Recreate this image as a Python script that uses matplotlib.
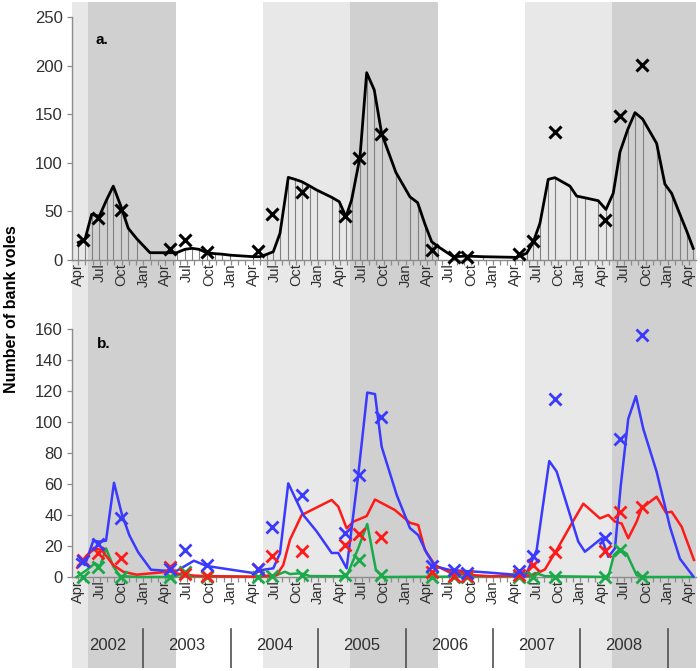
import numpy as np
import matplotlib.pyplot as plt

plt.rcParams['font.family'] = ['Liberation Sans Narrow', 'Liberation Sans', 'DejaVu Sans']

# time axis: months since Jan 2002 (Apr 2002 = 3)
obs_month = [3.69, 5.79, 8.85, 15.69, 17.70, 20.75, 27.73, 29.65, 33.73, 39.68, 41.60,
             44.62, 51.63, 54.65, 56.50, 63.58, 65.50, 68.52, 75.46, 77.45, 80.50]

# panel a: total voles, model line and observed counts
total_month = [3.04, 3.96, 4.88, 5.93, 6.94, 7.85, 8.91, 9.91, 11.06, 12.89, 16.56, 17.70,
               18.66, 19.62, 20.68, 21.82, 22.78, 23.88, 27.08, 28.00, 28.92, 29.83, 30.75,
               31.89, 32.81, 33.73, 34.87, 35.79, 37.85, 38.89, 39.81, 40.60, 41.74, 42.66,
               43.70, 44.72, 46.68, 48.60, 49.66, 50.66, 51.59, 52.49, 54.55, 56.39, 58.67,
               63.26, 64.63, 65.50, 66.46, 67.60, 68.52, 70.58, 71.50, 72.64, 74.47, 75.53,
               76.53, 77.45, 78.51, 79.52, 80.57, 82.49, 83.63, 84.55, 85.69, 86.61, 87.52]
total_fit = [18, 21, 47, 45, 62, 76, 55, 32.6, 22, 7.5, 7.5, 11,
             12, 11, 7.5, 6.5, 6, 5, 3.4, 3.4, 5.8, 8.5, 27.4,
             85, 83, 80.6, 76, 72, 64.5, 60, 44.5, 62, 106, 192.7,
             175, 130, 90, 65, 59, 37, 18.8, 13.7, 3.4, 4, 3.4,
             2.7, 6.9, 17.6, 37.7, 83, 84.7, 76, 65.8, 64, 61, 52,
             68.6, 111, 134, 151.6, 145, 120, 78, 68.6, 47, 30, 12]
total_obs = [21, 43, 51, 11.6, 21, 8.5, 9.6, 47, 69.7, 45, 105, 130, 10.3, 3.4, 3.4,
             5.8, 19.9, 132, 41, 148, 201]

# panel b: three components
blue_month = [2.90, 3.96, 5.10, 5.93, 6.85, 7.95, 9.00, 10.05, 11.28, 13.03, 15.18, 16.56,
              17.70, 18.93, 20.68, 27.31, 28.23, 29.83, 30.75, 31.89, 33.95, 35.79, 37.85,
              38.76, 39.91, 41.50, 42.74, 43.80, 44.72, 46.78, 48.60, 49.74, 50.90, 52.04,
              54.10, 57.77, 59.59, 63.48, 64.63, 66.01, 67.74, 68.76, 71.73, 72.64, 74.94,
              75.85, 76.77, 77.55, 78.59, 79.65, 80.65, 82.49, 84.32, 85.69, 87.52]
blue_fit = [11.4, 7.7, 23.4, 22.8, 23.4, 60.8, 41, 27, 15.9, 4.7, 4, 4,
            7.1, 10.5, 7.1, 2.4, 4.5, 5.6, 15.3, 60.4, 40, 29.4, 15.5,
            15.5, 5.6, 65.8, 119, 118, 84, 53, 31.6, 27, 15.5, 6.9,
            4.5, 3.4, 2.8, 1.3, 2.4, 17.4, 74.8, 68, 22.8, 16.3, 25,
            13, 18.5, 58.3, 102, 116.7, 95.7, 67.9, 32.4, 11.8, 0.4]
blue_obs = [10.5, 21.3, 38.3, 5, 17.4, 7.7, 5, 32, 52.9, 28.2, 65.8, 103.4, 7.1, 4.3, 2.8,
            3.9, 13.5, 115, 24.9, 89.3, 156]

red_month = [2.90, 4.20, 5.34, 6.26, 7.85, 9.22, 11.06, 15.64, 17.46, 20.21, 27.54, 30.29,
             31.20, 32.12, 33.73, 37.85, 38.76, 39.91, 40.82, 42.66, 43.80, 46.54, 48.60,
             49.74, 50.66, 52.04, 54.10, 56.85, 59.59, 65.55, 67.15, 68.76, 70.82, 72.42,
             74.71, 75.85, 76.77, 77.69, 78.59, 79.75, 80.43, 82.49, 83.77, 84.55, 85.93,
             87.62]
red_fit = [6, 14, 18.5, 17.4, 7.7, 3.4, 1.5, 3.5, 1.3, 0.6, 0.2, 1.3,
           7.7, 24, 40, 49.7, 45.4, 31.4, 35.7, 39.3, 50, 43.2, 35,
           33.5, 17.4, 7.7, 2.8, 1.3, 0.5, 1.1, 4.9, 17.4, 34.5, 47.3,
           37.8, 40, 35.7, 34.5, 25, 35.7, 44.3, 51.8, 41.5, 42.1, 32.4,
           11]
red_obs = [11, 15.7, 12, 6.3, 1.9, 0.6, 5, 13.5, 17, 20.6, 27.7, 25.6, 3.4, 0.4, 0.4,
           1.1, 7.7, 16.3, 17, 42, 45.3]

green_month = [2.82, 4.20, 5.34, 6.02, 6.85, 7.85, 8.77, 11.52, 15.64, 16.74, 17.57, 18.66,
               28.00, 30.20, 31.43, 32.12, 33.50, 34.87, 39.91, 41.50, 42.74, 43.93, 44.94,
               65.09, 65.78, 67.15, 75.85, 76.62, 77.45, 78.37, 79.75, 80.62, 87.52]
green_fit = [0, 4.5, 8.8, 6.8, 18.5, 6.8, 0.6, 0, 0, 1, 3.5, 0.5,
             0, 1, 3.4, 1.9, 2.4, 0.6, 0.5, 18.5, 34.2, 4.5, 0,
             0.5, 2.6, 0.6, 0, 14.2, 17.8, 15.1, 1.1, 0, 0]
green_obs = [0, 6.3, 0, 0, 3, 0, 0, 0.6, 1.3, 1.3, 11, 1.3, 0, 0, 0,
             0, 0, 0, 0, 17.4, 0]

# cycle phase shading (start month, shade)
phase_start = [2.18, 4.4, 16.4, 28.4, 40.4, 52.4, 64.4, 76.4]
phase_shade = ["#e8e8e8", "#d0d0d0", "#ffffff", "#e8e8e8", "#d0d0d0", "#ffffff",
               "#e8e8e8", "#d0d0d0"]
years = [2002, 2003, 2004, 2005, 2006, 2007, 2008]

X0, X1 = 2.18, 87.9
BLUE, RED, GREEN = "#3a3aff", "#ff1a1a", "#1aaa4a"
AXC = "#8c8c8c"

fig = plt.figure(figsize=(7.0, 6.71), dpi=100)

# background: shading through both panels and the year strip (y in pixels)
bg = fig.add_axes([72 / 700, 3 / 671, 624 / 700, 666 / 671])
bg.set_xlim(X0, X1)
bg.set_ylim(668, 2)
bg.set_axis_off()
edges = phase_start + [X1]
for i, c in enumerate(phase_shade):
    bg.axvspan(edges[i], edges[i + 1], color=c, lw=0, zorder=0)
for k, yr in enumerate(years):
    sep = 12 * (k + 1)
    bg.plot([sep, sep], [629, 668], color="#505050", lw=1.2, zorder=2)
    xc = (X0 + 12) / 2 if k == 0 else 12 * k + 6
    bg.text(xc, 646, str(yr), ha="center", va="center", fontsize=12, color="#303030")

month_names = {0: "Jan", 3: "Apr", 6: "Jul", 9: "Oct"}
ticks = list(range(3, 88))
labels = [month_names.get(m % 12, "") for m in ticks]


def style(ax, ymax, step):
    ax.set_facecolor("none")
    ax.set_xlim(X0, X1)
    ax.set_ylim(0, ymax)
    ax.set_yticks(np.arange(0, ymax + 1, step))
    ax.set_xticks(ticks)
    ax.set_xticklabels(labels, rotation=90, fontsize=10.5, va="top")
    ax.tick_params(axis="x", length=3.5, width=0.9, color=AXC, pad=-1, labelcolor="#303030")
    ax.tick_params(axis="y", length=3.5, width=0.9, color=AXC, labelsize=12,
                   labelcolor="#303030", pad=3)
    for s in ("top", "right"):
        ax.spines[s].set_visible(False)
    for s in ("left", "bottom"):
        ax.spines[s].set_color(AXC)
        ax.spines[s].set_linewidth(1.0)


# panel a
ax1 = fig.add_axes([72 / 700, 411 / 671, 624 / 700, 243 / 671])
style(ax1, 250, 50)
ax1.vlines(total_month, 0, total_fit, color="#808080", lw=0.8, zorder=1)
ax1.plot(total_month, total_fit, color="black", lw=2.0, zorder=3)
ax1.plot(obs_month, total_obs, ls="none", marker="x", ms=9, mew=2.2, color="black",
         zorder=4, clip_on=False)
ax1.text(0.037, 0.905, "a.", transform=ax1.transAxes, fontsize=11, fontweight="bold",
         ha="left", va="center")

# panel b
ax2 = fig.add_axes([72 / 700, 94 / 671, 624 / 700, 248 / 671])
style(ax2, 160, 20)
for mon, fit, obs, col in [(green_month, green_fit, green_obs, GREEN),
                           (red_month, red_fit, red_obs, RED),
                           (blue_month, blue_fit, blue_obs, BLUE)]:
    ax2.plot(mon, fit, color=col, lw=1.8, zorder=3, clip_on=False)
for mon, fit, obs, col in [(green_month, green_fit, green_obs, GREEN),
                           (red_month, red_fit, red_obs, RED),
                           (blue_month, blue_fit, blue_obs, BLUE)]:
    ax2.plot(obs_month, obs, ls="none", marker="x", ms=8, mew=2.0, color=col,
             zorder=4, clip_on=False)
ax2.text(0.04, 0.94, "b.", transform=ax2.transAxes, fontsize=11, fontweight="bold",
         ha="left", va="center")

fig.text(0.016, 0.54, "Number of bank voles", rotation=90, ha="center", va="center",
         fontsize=11.5, fontweight="bold")

fig.savefig("out.png", dpi=100)
